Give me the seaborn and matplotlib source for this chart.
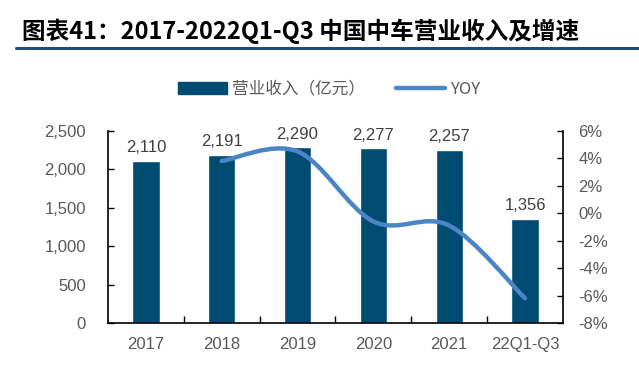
import matplotlib
matplotlib.use("Agg")
import matplotlib.pyplot as plt
import seaborn as sns
import numpy as np
import pandas as pd
from matplotlib.path import Path
from matplotlib.patches import PathPatch
from matplotlib.lines import Line2D
from matplotlib.patches import Patch

categories = ["2017", "2018", "2019", "2020", "2021", "22Q1-Q3"]
revenue = [2110, 2191, 2290, 2277, 2257, 1356]
yoy_cats = ["2018", "2019", "2020", "2021", "22Q1-Q3"]
yoy = [3.8, 4.5, -0.6, -0.9, -6.2]
left_ticks = [0, 500, 1000, 1500, 2000, 2500]
right_ticks = [-8, -6, -4, -2, 0, 2, 4, 6]

sns.set_theme(style="white")
plt.rcParams['font.family'] = ['Arial', 'Liberation Sans', 'Noto Sans CJK SC', 'DejaVu Sans']

BAR = "#004B71"
LINE = "#4A86C4"
TXT = "#595959"

fig = plt.figure(figsize=(6.39, 3.76), dpi=100)
ax = fig.add_axes([0.169, 0.141, 0.712, 0.511])

df = pd.DataFrame({"cat": categories, "rev": revenue})
sns.barplot(data=df, x="cat", y="rev", color=BAR, width=0.36, ax=ax, saturation=1)
ax.set_ylim(0, 2500)
ax.set_xlim(-0.5, len(categories) - 0.5)
ax.set_yticks(left_ticks)
ax.set_yticklabels([f"{v:,}" for v in left_ticks], color=TXT, fontsize=12)
ax.set_xlabel("")
ax.set_ylabel("")
ax.tick_params(axis="x", length=0, pad=10, labelsize=12, labelcolor=TXT)
ax.tick_params(axis="y", direction="in", length=4, width=1, color="black", pad=16)
ax.set_xticks(np.arange(0.5, len(categories) - 1, 1), minor=True)
ax.tick_params(axis="x", which="minor", direction="in", length=5, width=1, color="black", bottom=True)
for i, v in enumerate(revenue):
    ax.text(i, v + 70, f"{v:,}", ha="center", va="bottom", fontsize=12, color="#404040")
for s in ["left", "bottom"]:
    ax.spines[s].set_color("black")
    ax.spines[s].set_linewidth(1.2)
ax.spines["top"].set_visible(False)
ax.spines["right"].set_visible(False)

ax2 = ax.twinx()
ax2.set_ylim(-8, 6)
ax2.set_yticks(right_ticks)
ax2.set_yticklabels([f"{v}%" for v in right_ticks], color=TXT, fontsize=12)
ax2.tick_params(axis="y", direction="in", length=4, width=1, color="black", pad=11)
ax2.spines["right"].set_color("black")
ax2.spines["right"].set_linewidth(1.2)
for s in ["left", "top", "bottom"]:
    ax2.spines[s].set_visible(False)
ax2.grid(False)
ax.grid(False)

# smooth line via bezier (Catmull-Rom style control points)
xs = np.array([categories.index(c) for c in yoy_cats], dtype=float)
ys = np.array(yoy, dtype=float)
verts = [(xs[0], ys[0])]
codes = [Path.MOVETO]
t = 1 / 6
n = len(xs)
for i in range(n - 1):
    p0 = (xs[i - 1], ys[i - 1]) if i > 0 else (xs[i], ys[i])
    p1 = (xs[i], ys[i])
    p2 = (xs[i + 1], ys[i + 1])
    p3 = (xs[i + 2], ys[i + 2]) if i + 2 < n else p2
    c1 = (p1[0] + (p2[0] - p0[0]) * t, p1[1] + (p2[1] - p0[1]) * t)
    c2 = (p2[0] - (p3[0] - p1[0]) * t, p2[1] - (p3[1] - p1[1]) * t)
    verts += [c1, c2, p2]
    codes += [Path.CURVE4] * 3
patch = PathPatch(Path(verts, codes), facecolor="none", edgecolor=LINE, lw=3.2, capstyle="round")
ax2.add_patch(patch)

# legend
handles = [Patch(facecolor=BAR, edgecolor=BAR), Line2D([0], [0], color=LINE, lw=3.2, solid_capstyle="round")]
fig.legend(handles, ["营业收入（亿元）", "YOY"], loc="center", bbox_to_anchor=(0.515, 0.763), ncol=2,
           frameon=False, handlelength=2.9, handleheight=0.7, columnspacing=1.9,
           handletextpad=0.3, labelcolor=TXT,
           prop={"family": ["Noto Sans CJK SC", "DejaVu Sans"], "size": 12})

# title
fig.text(0.034, 0.918, "图表41：2017-2022Q1-Q3 中国中车营业收入及增速", fontsize=17, fontweight="bold",
         family=["Noto Sans CJK SC", "DejaVu Sans"], color="black", va="center", style="italic")
fig.add_artist(Line2D([0.025, 1.0], [0.872, 0.872], color="#1F4E79", lw=2.2, transform=fig.transFigure))

fig.savefig("out.png", dpi=100)
